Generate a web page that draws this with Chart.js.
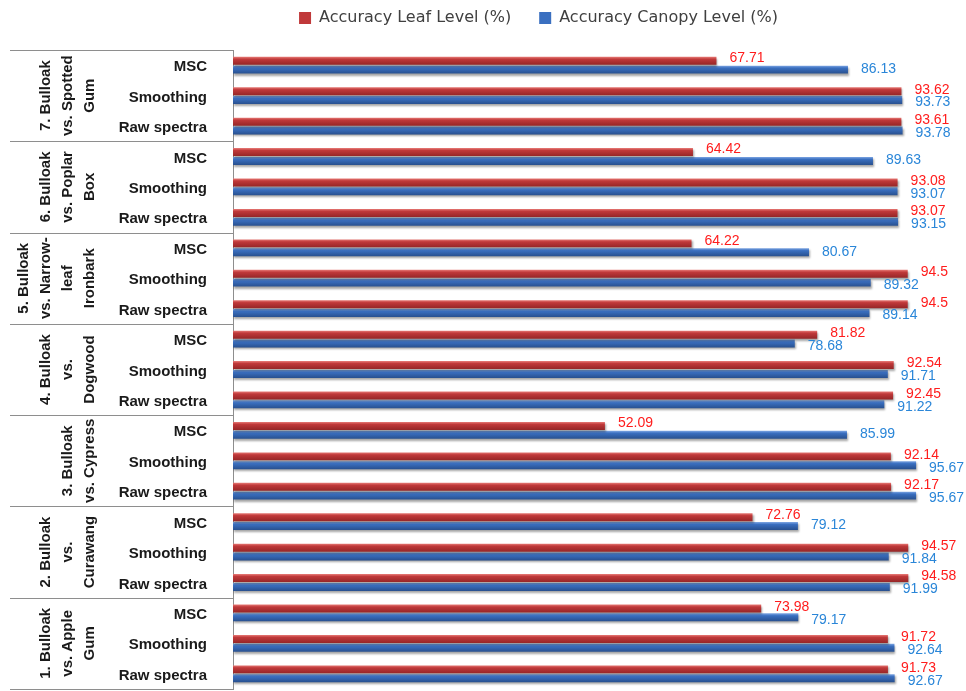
<!DOCTYPE html>
<html>
<head>
<meta charset="utf-8">
<script src="https://cdn.jsdelivr.net/npm/chart.js@4.4.1/dist/chart.umd.min.js"></script>
<style>
  html, body { margin: 0; padding: 0; background: #fff; }
  #wrap { width: 966px; height: 691px; position: relative; }
</style>
</head>
<body>
<div id="wrap"><canvas id="chart"></canvas></div>
<script>
// groups top to bottom, split in lines the way the figure wraps them
const groupLines = [
  ["7. Bulloak", "vs. Spotted", "Gum"],
  ["6. Bulloak", "vs. Poplar", "Box"],
  ["5. Bulloak", "vs. Narrow-", "leaf", "Ironbark"],
  ["4. Bulloak", "vs.", "Dogwood"],
  ["3. Bulloak", "vs. Cypress"],
  ["2. Bulloak", "vs.", "Curawang"],
  ["1. Bulloak", "vs. Apple", "Gum"]
];
const methods = ["MSC", "Smoothing", "Raw spectra"];
const seriesNames = ["Accuracy Leaf Level (%)", "Accuracy Canopy Level (%)"];

// one value per row, same order as the rows (group 7 MSC first)
const leafAccuracy = [
  67.71, 93.62, 93.61,
  64.42, 93.08, 93.07,
  64.22, 94.5, 94.5,
  81.82, 92.54, 92.45,
  52.09, 92.14, 92.17,
  72.76, 94.57, 94.58,
  73.98, 91.72, 91.73
];
const canopyAccuracy = [
  86.13, 93.73, 93.78,
  89.63, 93.07, 93.15,
  80.67, 89.32, 89.14,
  78.68, 91.71, 91.22,
  85.99, 95.67, 95.67,
  79.12, 91.84, 91.99,
  79.17, 92.64, 92.67
];

const rowLabels = [];
groupLines.forEach(() => methods.forEach(m => rowLabels.push(m)));

const catPct = 0.58, barPct = 0.9;
const redShades = ['#e77a76', '#c0393a', '#962627'];
const blueShades = ['#7ea6e3', '#3a6fc0', '#28508f'];
const labelColors = ['#ff1c1c', '#2a86d8'];
const seriesColors = [redShades[1], blueShades[1]];

// vertical gradient per bar, worked out from the category scale
function barFill(shades) {
  return function (c) {
    const chart = c.chart;
    const y = chart.scales && chart.scales.y;
    if (!y || c.type !== 'data') return shades[1];
    const rowH = Math.abs(y.getPixelForValue(1) - y.getPixelForValue(0));
    const slot = rowH * catPct / 2;
    const center = y.getPixelForValue(c.dataIndex) + (c.datasetIndex === 0 ? -slot / 2 : slot / 2);
    const h = slot * barPct;
    if (!isFinite(center) || !isFinite(h) || h <= 0) return shades[1];
    const g = chart.ctx.createLinearGradient(0, center - h / 2, 0, center + h / 2);
    g.addColorStop(0, shades[0]);
    g.addColorStop(0.3, shades[1]);
    g.addColorStop(1, shades[2]);
    return g;
  };
}

// shadow under bars + value labels at the bar ends
const barDecor = {
  id: 'barDecor',
  beforeDatasetsDraw(chart) {
    const ctx = chart.ctx;
    ctx.save();
    ctx.shadowColor = 'rgba(0,0,0,0.35)';
    ctx.shadowBlur = 2;
    ctx.shadowOffsetX = 1;
    ctx.shadowOffsetY = 2;
  },
  afterDatasetsDraw(chart) {
    const ctx = chart.ctx;
    ctx.restore();
    const leaf = chart.getDatasetMeta(0).data;
    const canopy = chart.getDatasetMeta(1).data;
    ctx.save();
    ctx.font = '14px "Liberation Sans"';
    ctx.textAlign = 'left';
    ctx.textBaseline = 'middle';
    leaf.forEach((el, i) => {
      const other = canopy[i];
      const close = Math.abs(el.x - other.x) < 45;
      ctx.fillStyle = labelColors[0];
      ctx.fillText(String(leafAccuracy[i]), el.x + 13, el.y + (close ? -1.5 : -2.5));
      ctx.fillStyle = labelColors[1];
      ctx.fillText(String(canopyAccuracy[i]), other.x + 13, other.y + (close ? 2.5 : -0.5));
    });
    ctx.restore();
  }
};

// left table: group separators and rotated group names
const groupTable = {
  id: 'groupTable',
  afterLayout(chart) {
    // nudge the legend so it sits where the original has it
    const lg = chart.legend;
    if (lg) {
      lg.left += 6;
      lg.right += 6;
      lg.top -= 14;
      lg.bottom -= 14;
    }
  },
  afterDraw(chart) {
    const {ctx, chartArea} = chart;
    const y = chart.scales.y;
    const rowH = Math.abs(y.getPixelForValue(1) - y.getPixelForValue(0));
    ctx.save();
    ctx.strokeStyle = '#8e8e8e';
    ctx.lineWidth = 1;
    for (let g = 0; g <= groupLines.length; g++) {
      const yy = Math.round(y.getPixelForValue(g * 3) - rowH / 2) + 0.5;
      ctx.beginPath();
      ctx.moveTo(10, yy);
      ctx.lineTo(chartArea.left, yy);
      ctx.stroke();
    }
    ctx.fillStyle = '#1a1a1a';
    ctx.font = 'bold 15px "Liberation Sans"';
    ctx.textAlign = 'center';
    ctx.textBaseline = 'middle';
    groupLines.forEach((lines, g) => {
      const yc = (y.getPixelForValue(g * 3) + y.getPixelForValue(g * 3 + 2)) / 2;
      lines.forEach((t, i) => {
        const xc = chartArea.left - 143 - 22 * (lines.length - 1 - i);
        ctx.save();
        ctx.translate(xc, yc);
        ctx.rotate(-Math.PI / 2);
        ctx.fillText(t, 0, 0);
        ctx.restore();
      });
    });
    ctx.restore();
  }
};

new Chart(document.getElementById('chart'), {
  type: 'bar',
  data: {
    labels: rowLabels,
    datasets: [
      {
        label: seriesNames[0],
        data: leafAccuracy,
        backgroundColor: barFill(redShades),
        borderWidth: 0,
        categoryPercentage: catPct,
        barPercentage: barPct
      },
      {
        label: seriesNames[1],
        data: canopyAccuracy,
        backgroundColor: barFill(blueShades),
        borderWidth: 0,
        categoryPercentage: catPct,
        barPercentage: barPct
      }
    ]
  },
  options: {
    indexAxis: 'y',
    responsive: true,
    maintainAspectRatio: false,
    animation: false,
    layout: { padding: { left: 118, right: 19, top: -12, bottom: 0 } },
    scales: {
      x: { min: 0, max: 100, display: false },
      y: {
        grid: { display: false },
        border: { display: true, color: '#8e8e8e', width: 1 },
        ticks: {
          autoSkip: false,
          padding: 18,
          labelOffset: 2,
          color: '#1a1a1a',
          font: { family: 'Liberation Sans', size: 15, weight: 'bold' }
        },
        afterFit(s) {
          s.width = 115;
          s.paddingTop = 50;
          s.paddingBottom = 2;
        }
      }
    },
    plugins: {
      tooltip: { enabled: false },
      legend: {
        position: 'top',
        labels: {
          boxWidth: 12,
          boxHeight: 12,
          padding: 28,
          color: '#404040',
          font: { family: 'DejaVu Sans', size: 16 },
          generateLabels(chart) {
            const items = Chart.defaults.plugins.legend.labels.generateLabels(chart);
            items.forEach((it, i) => {
              it.fillStyle = seriesColors[i];
              it.strokeStyle = seriesColors[i];
              it.lineWidth = 0;
            });
            return items;
          }
        }
      }
    }
  },
  plugins: [barDecor, groupTable]
});
</script>
</body>
</html>
